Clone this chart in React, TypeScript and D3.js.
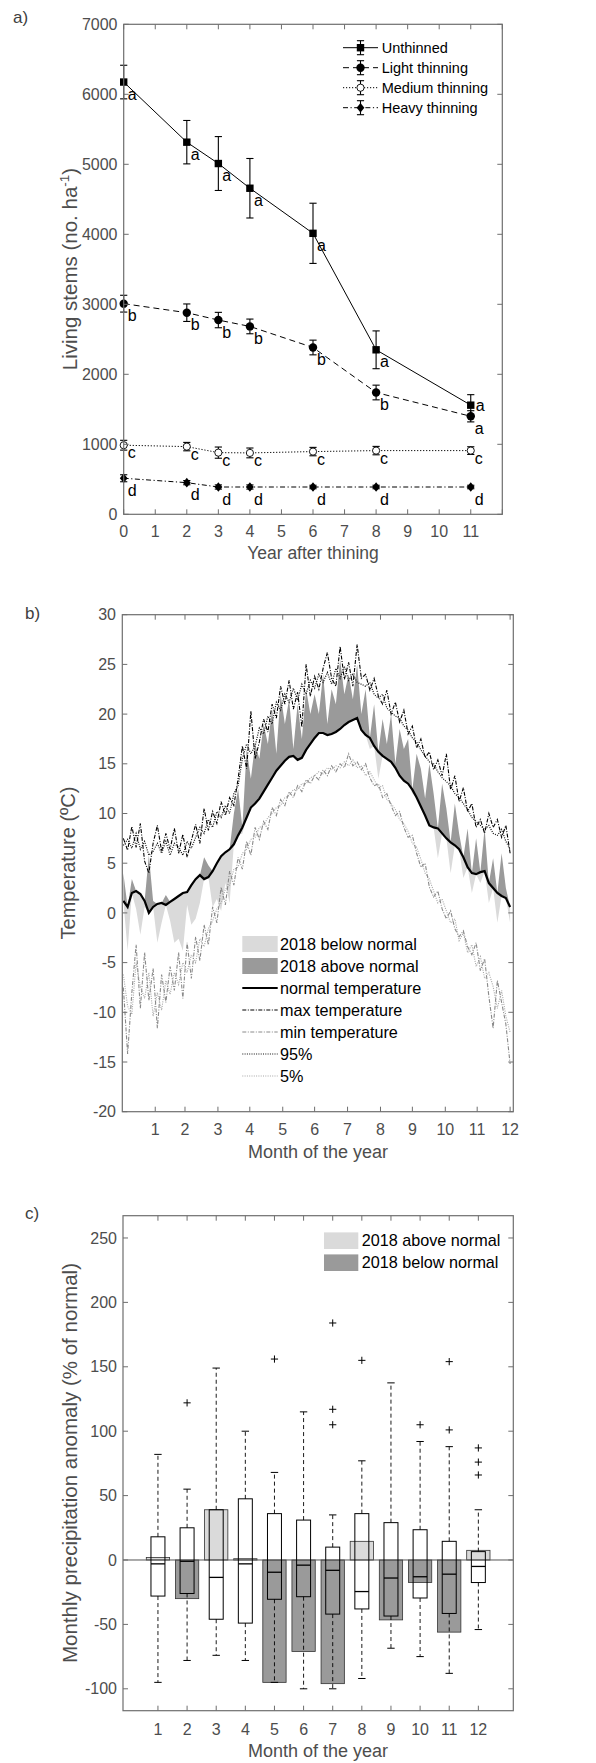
import React, { useRef, useEffect } from 'react'
import * as d3 from 'd3'

const W = 596
const H = 1763
const FONT = '"Liberation Sans", Arial, Helvetica, sans-serif'
const AXIS = '#6e6e6e'
const TICK_TEXT = '#4d4d4d'

// ---------- panel a: living stems after thinning ----------
const years = [0, 2, 3, 4, 6, 8, 11]
const unthinned = [6175, 5316, 5011, 4658, 4014, 2350, 1559]
const unthinnedErr = [240, 310, 385, 425, 430, 270, 150]
const lightThinning = [3009, 2880, 2775, 2684, 2383, 1740, 1400]
const lightErr = [120, 125, 110, 105, 105, 105, 80]
const mediumThinning = [987, 967, 881, 877, 896, 910, 910]
const mediumErr = [70, 60, 80, 70, 60, 60, 55]
const heavyThinning = [515, 452, 390, 390, 390, 390, 390]
const heavyErr = [50, 30, 30, 30, 25, 25, 25]
const unthinnedLetters = ['a', 'a', 'a', 'a', 'a', 'a', 'a']
const lightLetters = ['b', 'b', 'b', 'b', 'b', 'b', 'a']
const mediumLetters = ['c', 'c', 'c', 'c', 'c', 'c', 'c']
const heavyLetters = ['d', 'd', 'd', 'd', 'd', 'd', 'd']
const stemTicks = [0, 1000, 2000, 3000, 4000, 5000, 6000, 7000]
const yearTicks = [0, 1, 2, 3, 4, 5, 6, 7, 8, 9, 10, 11, 12]
const yearLabels = [0, 1, 2, 3, 4, 5, 6, 7, 8, 9, 10, 11]

// ---------- panel b: daily temperature (sampled every 4 days, day 1..365) ----------
const DAY_STEP = 4
const normalTemp = [
  1.2, 0.6, 2.0, 2.2, 1.9, 1.2, 0.0, 0.6, 0.9, 1.0,
  0.8, 1.1, 1.4, 1.7, 2.0, 2.1, 2.8, 3.4, 3.8, 3.4,
  3.6, 4.2, 5.0, 5.7, 6.1, 6.4, 6.9, 7.8, 8.6, 9.6,
  10.6, 11.0, 11.5, 12.2, 12.9, 13.6, 14.3, 14.8, 15.3, 15.7,
  15.8, 15.4, 15.6, 16.4, 17.0, 17.6, 18.1, 18.1, 17.9, 18.0,
  18.2, 18.5, 18.9, 19.2, 19.4, 19.6, 18.4, 17.9, 17.6, 16.8,
  16.2, 15.8, 15.5, 15.2, 14.6, 13.8, 13.3, 13.0, 12.4, 11.6,
  10.7, 9.8, 8.8, 8.6, 8.5, 8.0, 7.5, 7.1, 6.8, 6.4,
  5.6, 4.6, 4.0, 3.9, 4.1, 4.2, 3.0, 2.5, 2.0, 1.7,
  1.5, 0.6,
]
const maxTemp = [
  7.5, 6.3, 8.7, 6.6, 9.0, 5.2, 4.0, 7.0, 8.8, 6.2,
  8.0, 6.4, 8.5, 6.0, 7.9, 5.6, 7.3, 8.9, 7.0, 10.5,
  8.3, 10.2, 9.0, 11.2, 9.8, 11.6, 10.8, 13.5, 16.8, 14.5,
  20.3, 15.5, 17.2, 19.5, 18.2, 21.0, 19.6, 22.8, 21.0, 23.4,
  20.5, 22.2, 18.7, 25.0, 21.8, 23.8, 22.5, 24.6, 26.2, 23.6,
  22.8, 26.8, 23.5, 25.2, 22.8, 27.0, 23.6, 24.0, 22.4, 23.6,
  21.8, 21.0, 22.4, 20.0, 21.2, 19.2, 20.4, 18.0, 18.8, 16.6,
  17.5, 15.6, 16.2, 14.4, 15.4, 13.8, 16.0, 12.4, 13.8, 11.2,
  12.6, 10.2, 11.0, 8.6, 9.4, 8.0, 10.0, 8.6, 9.4, 7.6,
  8.8, 6.0,
]
const p95Temp = [
  6.8, 7.4, 6.5, 8.0, 6.4, 7.2, 5.8, 6.2, 7.0, 6.0,
  7.2, 5.8, 7.0, 6.6, 5.8, 7.2, 6.5, 7.6, 8.6, 8.0,
  9.4, 8.6, 10.2, 9.6, 10.8, 10.0, 12.0, 12.8, 15.5, 17.0,
  16.0, 16.8, 18.6, 18.0, 19.8, 19.0, 21.2, 20.4, 22.0, 21.2,
  22.6, 21.4, 23.0, 22.0, 23.4, 22.6, 24.0, 23.2, 24.2, 23.0,
  24.6, 23.6, 24.8, 23.4, 24.0, 23.2, 23.0, 22.8, 23.2, 22.0,
  21.6, 22.0, 20.6, 20.2, 19.8, 19.6, 18.8, 18.4, 17.6, 17.2,
  16.4, 15.8, 15.2, 15.0, 14.2, 13.6, 13.2, 12.8, 12.0, 11.6,
  11.0, 10.4, 9.6, 9.2, 8.8, 8.4, 8.8, 8.0, 7.8, 8.4,
  7.2, 6.4,
]
const minTemp = [
  -7.5, -14.2, -8.0, -3.2, -9.6, -4.0, -8.8, -5.6, -11.6, -6.2,
  -9.0, -5.4, -7.8, -4.0, -8.6, -3.0, -6.6, -2.4, -4.8, -1.2,
  -3.2, 0.6, -1.0, 2.6, 0.8, 4.2, 2.8, 5.6, 4.4, 7.2,
  5.8, 8.6, 7.4, 9.2, 8.4, 10.6, 9.8, 11.4, 10.8, 12.2,
  11.6, 12.8, 12.2, 13.4, 13.0, 13.8, 13.4, 14.4, 13.8, 14.8,
  14.2, 15.0, 14.6, 16.0, 14.8, 15.2, 14.4, 15.0, 13.6, 12.8,
  13.0, 11.6, 12.0, 10.8, 9.8, 10.2, 8.6, 7.6, 7.8, 6.0,
  4.6, 5.0, 2.6, 1.6, 2.2, 0.4, -0.6, 0.2, -1.6, -2.4,
  -1.8, -3.4, -4.2, -3.0, -5.8, -4.6, -8.4, -11.6, -6.8, -9.0,
  -11.2, -15.2,
]
const p5Temp = [
  -6.2, -9.4, -10.2, -5.0, -7.4, -8.6, -6.0, -10.4, -8.0, -9.8,
  -6.8, -8.2, -6.0, -7.2, -5.0, -6.0, -4.2, -5.0, -2.6, -3.4,
  -1.6, -0.8, 0.4, 1.0, 2.4, 2.8, 4.4, 4.6, 6.0, 6.4,
  7.4, 7.6, 8.6, 8.8, 9.6, 10.0, 10.6, 10.8, 11.6, 11.8,
  12.4, 12.4, 13.0, 13.0, 13.6, 13.8, 14.2, 14.0, 14.6, 14.4,
  14.8, 14.6, 15.2, 14.8, 15.4, 14.6, 14.8, 13.8, 14.2, 13.4,
  12.6, 12.8, 11.4, 11.0, 10.4, 9.4, 9.0, 8.2, 7.0, 6.6,
  5.4, 4.0, 3.4, 2.2, 1.0, 1.4, 0.2, -1.0, -0.6, -2.8,
  -2.0, -4.0, -3.2, -5.4, -4.4, -6.6, -6.0, -7.4, -9.6, -7.8,
  -10.4, -12.0,
]
const temp2018 = [
  4.0, -3.8, 3.4, 0.4, -2.2, 0.6, 5.8, 1.2, -3.0, -1.0,
  1.8, -0.8, -3.0, -2.6, -3.8, 0.8, -1.2, -0.6, 1.0, 5.6,
  4.8, 0.6, 1.4, 0.2, 3.0, 1.0, 10.0, 12.5, 8.0, 16.5,
  13.5, 17.0, 15.5, 19.0, 17.0, 20.5, 16.0, 22.0, 19.0, 21.5,
  16.5, 21.0, 17.5, 22.5, 20.0, 22.0, 20.0, 24.0, 19.0, 22.5,
  21.0, 25.5, 22.0, 24.0, 21.5, 25.0, 20.0, 22.5, 16.5, 21.0,
  13.5, 19.5, 17.0, 20.0, 15.0, 18.5, 16.5, 17.5, 12.0, 16.0,
  14.5, 11.5, 15.0, 12.0, 5.5, 13.0, 10.5, 4.0, 11.0, 8.0,
  3.5, 8.5, 2.0, 7.5, 3.0, 8.5, 1.0, 5.5, -1.0, 6.0,
  2.5, -1.0,
]
const monthEndDays = [31, 59, 90, 120, 151, 181, 212, 243, 273, 304, 334, 365]
const monthLabels = ['1', '2', '3', '4', '5', '6', '7', '8', '9', '10', '11', '12']
const tempTicks = [-20, -15, -10, -5, 0, 5, 10, 15, 20, 25, 30]

// ---------- panel c: monthly precipitation anomaly ----------
const months = [1, 2, 3, 4, 5, 6, 7, 8, 9, 10, 11, 12]
const precip2018 = [2, -30, 39, 1, -95, -71, -96, 14.5, -46.5, -17.5, -56, 7.5]
const boxQ3 = [18, 25, 39, 47.5, 36, 31, 10, 36, 29, 23.5, 14.5, 6.5]
const boxQ1 = [-28, -26, -46, -49, -30.5, -28.5, -42, -38, -43.5, -29.5, -41.5, -17.5]
const boxMedian = [-3, -1, -13.5, -3, -9.5, -4, -8, -24.5, -14, -13, -11, -5]
const whiskerHigh = [82, 55, 149, 100, 68, 115, 35, 77, 137.5, 92, 88, 39]
const whiskerLow = [-95, -78, -74, -78, -95, -100, -100, -92, -68.5, -75, -88, -54]
const outliers = [[], [122], [], [], [156], [], [184, 117, 105], [155], [], [105], [154, 101], [87, 76, 66]]
const precipTicks = [-100, -50, 0, 50, 100, 150, 200, 250]

type Sel = d3.Selection<SVGGElement, unknown, null, undefined>

function boxAxes(g: Sel, x: d3.ScaleLinear<number, number>, y: d3.ScaleLinear<number, number>, xTicks: number[], yTicks: number[]) {
  const [x0, x1] = x.range()
  const [y0, y1] = y.range()
  const t = 5
  const ticks = g.append('g').attr('stroke', AXIS).attr('stroke-width', 1)
  xTicks.forEach(v => {
    ticks.append('line').attr('x1', x(v)).attr('x2', x(v)).attr('y1', y0).attr('y2', y0 - t)
    ticks.append('line').attr('x1', x(v)).attr('x2', x(v)).attr('y1', y1).attr('y2', y1 + t)
  })
  yTicks.forEach(v => {
    ticks.append('line').attr('x1', x0).attr('x2', x0 + t).attr('y1', y(v)).attr('y2', y(v))
    ticks.append('line').attr('x1', x1).attr('x2', x1 - t).attr('y1', y(v)).attr('y2', y(v))
  })
  g.append('rect')
    .attr('x', x0).attr('y', y1)
    .attr('width', x1 - x0).attr('height', y0 - y1)
    .attr('fill', 'none').attr('stroke', AXIS).attr('stroke-width', 1.2)
}

function yTickLabels(g: Sel, y: d3.ScaleLinear<number, number>, vals: number[], xPos: number) {
  g.append('g').selectAll('text').data(vals).join('text')
    .attr('x', xPos).attr('y', d => y(d)).attr('dy', '0.35em')
    .attr('text-anchor', 'end').attr('font-size', 16).attr('fill', TICK_TEXT)
    .text(d => String(d))
}

function xTickLabels(g: Sel, xs: number[], labels: string[], yPos: number) {
  g.append('g').selectAll('text').data(xs).join('text')
    .attr('x', d => d).attr('y', yPos)
    .attr('text-anchor', 'middle').attr('font-size', 16).attr('fill', TICK_TEXT)
    .text((_, i) => labels[i])
}

function drawThinning(svg: d3.Selection<SVGSVGElement, unknown, null, undefined>) {
  const g = svg.append('g')
  const x = d3.scaleLinear().domain([0, 12]).range([123.7, 502.3])
  const y = d3.scaleLinear().domain([0, 7000]).range([514.3, 24.3])

  g.append('text').attr('x', 13).attr('y', 23).attr('font-size', 17).attr('fill', '#404040').text('a)')

  const series = [
    { name: 'Unthinned', vals: unthinned, err: unthinnedErr, letters: unthinnedLetters, dash: null, marker: 'square' },
    { name: 'Light thinning', vals: lightThinning, err: lightErr, letters: lightLetters, dash: '6,4', marker: 'dot' },
    { name: 'Medium thinning', vals: mediumThinning, err: mediumErr, letters: mediumLetters, dash: '1.2,1.8', marker: 'ring' },
    { name: 'Heavy thinning', vals: heavyThinning, err: heavyErr, letters: heavyLetters, dash: '5,2.5,1.2,2.5', marker: 'diamond' },
  ]

  const drawMarker = (p: Sel, kind: string, cx: number, cy: number) => {
    if (kind === 'square') {
      p.append('rect').attr('x', cx - 3.7).attr('y', cy - 3.7).attr('width', 7.4).attr('height', 7.4).attr('fill', '#000')
    } else if (kind === 'dot') {
      p.append('circle').attr('cx', cx).attr('cy', cy).attr('r', 4.2).attr('fill', '#000')
    } else if (kind === 'ring') {
      p.append('circle').attr('cx', cx).attr('cy', cy).attr('r', 3.6).attr('fill', '#fff').attr('stroke', '#000').attr('stroke-width', 0.9)
    } else {
      p.append('path').attr('transform', `translate(${cx},${cy})`).attr('d', 'M0,-4.8L3.9,0L0,4.8L-3.9,0Z').attr('fill', '#000')
    }
  }

  const errBar = (p: Sel, cx: number, yTop: number, yBot: number) => {
    p.append('line').attr('x1', cx).attr('x2', cx).attr('y1', yTop).attr('y2', yBot)
    p.append('line').attr('x1', cx - 3.6).attr('x2', cx + 3.6).attr('y1', yTop).attr('y2', yTop)
    p.append('line').attr('x1', cx - 3.6).attr('x2', cx + 3.6).attr('y1', yBot).attr('y2', yBot)
  }

  const line = d3.line<number>().x((_, i) => x(years[i])).y(d => y(d))

  series.forEach((s, si) => {
    const sg = g.append('g')
    sg.append('path').attr('d', line(s.vals)).attr('fill', 'none').attr('stroke', '#000')
      .attr('stroke-width', 1).attr('stroke-dasharray', s.dash)
    const eb = sg.append('g').attr('stroke', '#000').attr('stroke-width', 1.1)
    s.vals.forEach((v, i) => errBar(eb as unknown as Sel, x(years[i]), y(v + s.err[i]), y(v - s.err[i])))
    s.vals.forEach((v, i) => drawMarker(sg, s.marker, x(years[i]), y(v)))
    s.vals.forEach((v, i) => {
      let dx = 4
      let dy = si === 2 ? 13 : 17.5
      if (si === 0 && i === s.vals.length - 1) { dx = 5; dy = 6 }
      sg.append('text').attr('x', x(years[i]) + dx).attr('y', y(v) + dy)
        .attr('font-size', 16).attr('fill', '#000').text(s.letters[i])
    })
  })

  // legend
  const lg = g.append('g')
  series.forEach((s, i) => {
    const cy = 47.7 + i * 20
    lg.append('line').attr('x1', 343).attr('x2', 378).attr('y1', cy).attr('y2', cy)
      .attr('stroke', '#000').attr('stroke-width', 1).attr('stroke-dasharray', s.dash)
    const eb = lg.append('g').attr('stroke', '#000').attr('stroke-width', 1.1)
    errBar(eb as unknown as Sel, 360.5, cy - 7, cy + 7)
    drawMarker(lg as unknown as Sel, s.marker, 360.5, cy)
    lg.append('text').attr('x', 381.7).attr('y', cy).attr('dy', '0.35em')
      .attr('font-size', 14.5).attr('fill', '#000').text(s.name)
  })

  boxAxes(g, x, y, yearTicks, stemTicks)
  yTickLabels(g, y, stemTicks, 117.5)
  xTickLabels(g, yearLabels.map(v => x(v)), yearLabels.map(String), 536.5)

  g.append('text').attr('x', (123.7 + 502.3) / 2).attr('y', 559)
    .attr('text-anchor', 'middle').attr('font-size', 17.5).attr('fill', TICK_TEXT)
    .text('Year after thining')

  const yl = g.append('text').attr('transform', `translate(77,269) rotate(-90)`)
    .attr('text-anchor', 'middle').attr('font-size', 20.5).attr('fill', TICK_TEXT)
  yl.append('tspan').text('Living stems (no. ha')
  yl.append('tspan').attr('dy', -8).attr('font-size', 13.5).text('-1')
  yl.append('tspan').attr('dy', 8).text(')')
}

function drawTemperature(svg: d3.Selection<SVGSVGElement, unknown, null, undefined>) {
  const g = svg.append('g')
  const x = d3.scaleLinear().domain([0, 368]).range([122.3, 513.3])
  const y = d3.scaleLinear().domain([-20, 30]).range([1111.7, 614.7])
  const dayOf = (i: number) => 1 + i * DAY_STEP

  g.append('text').attr('x', 25).attr('y', 619).attr('font-size', 17).attr('fill', '#404040').text('b)')

  const clip = g.append('clipPath').attr('id', 'clipTemp')
  clip.append('rect').attr('x', 122.3).attr('y', 614.7).attr('width', 391).attr('height', 497)
  const plot = g.append('g').attr('clip-path', 'url(#clipTemp)')

  const above = d3.area<number>()
    .x((_, i) => x(dayOf(i)))
    .y0((_, i) => y(normalTemp[i]))
    .y1((d, i) => y(Math.max(d, normalTemp[i])))
  const below = d3.area<number>()
    .x((_, i) => x(dayOf(i)))
    .y0((_, i) => y(normalTemp[i]))
    .y1((d, i) => y(Math.min(d, normalTemp[i])))

  plot.append('path').attr('d', below(temp2018)).attr('fill', '#dadada')
  plot.append('path').attr('d', above(temp2018)).attr('fill', '#9a9a9a')

  const line = d3.line<number>().x((_, i) => x(dayOf(i))).y(d => y(d))

  const lineSeries = [
    { vals: p5Temp, color: '#a6a6a6', dash: '1,1.3', w: 1.1 },
    { vals: minTemp, color: '#8a8a8a', dash: '4,1.5,1,1.5', w: 1.1 },
    { vals: p95Temp, color: '#111', dash: '1,1.3', w: 1.2 },
    { vals: maxTemp, color: '#000', dash: '4,1.5,1,1.5', w: 1.1 },
  ]
  lineSeries.forEach(s => {
    plot.append('path').attr('d', line(s.vals)).attr('fill', 'none')
      .attr('stroke', s.color).attr('stroke-width', s.w).attr('stroke-dasharray', s.dash)
  })
  plot.append('path').attr('d', line(normalTemp)).attr('fill', 'none')
    .attr('stroke', '#000').attr('stroke-width', 2.2)

  // legend
  const lg = g.append('g')
  const entries = [
    { label: '2018 below normal', kind: 'patch', color: '#dadada' },
    { label: '2018 above normal', kind: 'patch', color: '#9a9a9a' },
    { label: 'normal temperature', kind: 'line', color: '#000', dash: null, w: 2.2 },
    { label: 'max temperature', kind: 'line', color: '#000', dash: '4,1.5,1,1.5', w: 1 },
    { label: 'min temperature', kind: 'line', color: '#8a8a8a', dash: '4,1.5,1,1.5', w: 1 },
    { label: '95%', kind: 'line', color: '#111', dash: '1,1.3', w: 1.1 },
    { label: '5%', kind: 'line', color: '#a6a6a6', dash: '1,1.3', w: 1.1 },
  ]
  entries.forEach((e, i) => {
    const cy = 944 + i * 22
    if (e.kind === 'patch') {
      lg.append('rect').attr('x', 242.3).attr('y', cy - 8).attr('width', 35.4).attr('height', 16).attr('fill', e.color)
    } else {
      lg.append('line').attr('x1', 242.3).attr('x2', 277.7).attr('y1', cy).attr('y2', cy)
        .attr('stroke', e.color).attr('stroke-width', e.w as number).attr('stroke-dasharray', e.dash as string | null)
    }
    lg.append('text').attr('x', 280).attr('y', cy).attr('dy', '0.35em')
      .attr('font-size', 16.2).attr('fill', '#000').text(e.label)
  })

  boxAxes(g, x, y, monthEndDays, tempTicks)
  yTickLabels(g, y, tempTicks, 116)
  xTickLabels(g, monthEndDays.map(d => x(d)), monthLabels, 1134.5)

  g.append('text').attr('x', 318).attr('y', 1158)
    .attr('text-anchor', 'middle').attr('font-size', 18).attr('fill', TICK_TEXT)
    .text('Month of the year')
  g.append('text').attr('transform', `translate(75,863) rotate(-90)`)
    .attr('text-anchor', 'middle').attr('font-size', 20).attr('fill', TICK_TEXT)
    .text('Temperature (ºC)')
}

function drawPrecipitation(svg: d3.Selection<SVGSVGElement, unknown, null, undefined>) {
  const g = svg.append('g')
  const x = d3.scaleLinear().domain([-0.2, 13.2]).range([123, 513.3])
  const y = d3.scaleLinear().domain([-117, 267.3]).range([1710.7, 1215.7])
  const bw = x(0.8) - x(0)
  const boxW = x(0.48) - x(0)
  const capW = 7.4

  g.append('text').attr('x', 25).attr('y', 1219).attr('font-size', 17).attr('fill', '#404040').text('c)')

  // 2018 bars
  g.append('g').selectAll('rect').data(precip2018).join('rect')
    .attr('x', (_, i) => x(months[i]) - bw / 2)
    .attr('y', d => y(Math.max(0, d)))
    .attr('width', bw)
    .attr('height', d => Math.abs(y(d) - y(0)))
    .attr('fill', d => (d >= 0 ? '#dadada' : '#9a9a9a'))
    .attr('stroke', '#333').attr('stroke-width', 0.8)

  g.append('line').attr('x1', x(-0.2)).attr('x2', x(13.2)).attr('y1', y(0)).attr('y2', y(0))
    .attr('stroke', '#555').attr('stroke-width', 1)

  // box plots
  const bx = g.append('g').attr('stroke', '#000').attr('fill', 'none')
  months.forEach((m, i) => {
    const cx = x(m)
    bx.append('line').attr('x1', cx).attr('x2', cx).attr('y1', y(boxQ3[i])).attr('y2', y(whiskerHigh[i]))
      .attr('stroke-dasharray', '4,3').attr('stroke-width', 0.9)
    bx.append('line').attr('x1', cx).attr('x2', cx).attr('y1', y(boxQ1[i])).attr('y2', y(whiskerLow[i]))
      .attr('stroke-dasharray', '4,3').attr('stroke-width', 0.9)
    bx.append('line').attr('x1', cx - capW / 2).attr('x2', cx + capW / 2).attr('y1', y(whiskerHigh[i])).attr('y2', y(whiskerHigh[i]))
    bx.append('line').attr('x1', cx - capW / 2).attr('x2', cx + capW / 2).attr('y1', y(whiskerLow[i])).attr('y2', y(whiskerLow[i]))
    bx.append('rect').attr('x', cx - boxW / 2).attr('y', y(boxQ3[i]))
      .attr('width', boxW).attr('height', y(boxQ1[i]) - y(boxQ3[i])).attr('stroke-width', 1)
    bx.append('line').attr('x1', cx - boxW / 2).attr('x2', cx + boxW / 2)
      .attr('y1', y(boxMedian[i])).attr('y2', y(boxMedian[i])).attr('stroke-width', 1.3)
    outliers[i].forEach(o => {
      bx.append('line').attr('x1', cx - 3.6).attr('x2', cx + 3.6).attr('y1', y(o)).attr('y2', y(o))
      bx.append('line').attr('x1', cx).attr('x2', cx).attr('y1', y(o) - 3.6).attr('y2', y(o) + 3.6)
    })
  })

  // legend
  const lg = g.append('g')
  const entries = [
    { label: '2018 above normal', color: '#dadada' },
    { label: '2018 below normal', color: '#9a9a9a' },
  ]
  entries.forEach((e, i) => {
    const cy = 1240.7 + i * 22
    lg.append('rect').attr('x', 324).attr('y', cy - 8.3).attr('width', 34.3).attr('height', 16.6).attr('fill', e.color)
    lg.append('text').attr('x', 361.7).attr('y', cy).attr('dy', '0.35em')
      .attr('font-size', 16.2).attr('fill', '#000').text(e.label)
  })

  boxAxes(g, x, y, months, precipTicks)
  yTickLabels(g, y, precipTicks, 117)
  xTickLabels(g, months.map(m => x(m)), months.map(String), 1734.5)

  g.append('text').attr('x', 318).attr('y', 1757)
    .attr('text-anchor', 'middle').attr('font-size', 18).attr('fill', TICK_TEXT)
    .text('Month of the year')
  g.append('text').attr('transform', `translate(77,1463) rotate(-90)`)
    .attr('text-anchor', 'middle').attr('font-size', 20.5).attr('fill', TICK_TEXT)
    .text('Monthly precipitation anomaly (% of normal)')
}

export default function App() {
  const svgRef = useRef<SVGSVGElement>(null)

  useEffect(() => {
    document.body.style.margin = '0'
    if (!svgRef.current) return
    const svg = d3.select(svgRef.current)
    svg.selectAll('*').remove()
    drawThinning(svg)
    drawTemperature(svg)
    drawPrecipitation(svg)
  }, [])

  return (
    <svg
      ref={svgRef}
      width={W}
      height={H}
      style={{ display: 'block', background: '#fff', fontFamily: FONT }}
    />
  )
}
